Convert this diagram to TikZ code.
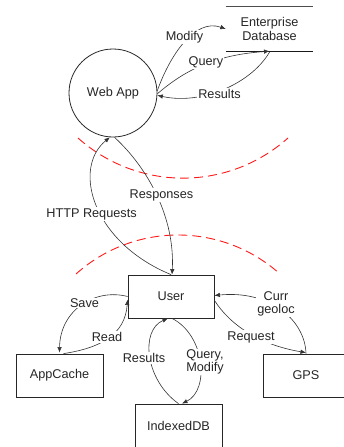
\documentclass[tikz,border=0pt]{standalone}
\usepackage{fontspec}
\setmainfont{Liberation Sans}
\usetikzlibrary{arrows.meta}
\begin{document}
\begin{tikzpicture}[x=1pt,y=-1pt,
  font=\fontsize{12.7}{15}\selectfont,
  text=black!85,
  proc/.style={draw=black!85,line width=0.8pt,minimum width=86pt,minimum height=43pt,inner sep=0pt},
  webproc/.style={draw=black!85,line width=0.8pt,circle,minimum size=88pt,inner sep=0pt},
  flow/.style={draw=black!80,line width=0.6pt,-{Latex[length=5.5pt,width=4.5pt]}},
  lbl/.style={fill=white,inner sep=1pt,align=center},
  boundary/.style={draw=red!90,line width=0.9pt,dash pattern=on 9pt off 5pt}]
\useasboundingbox (0,0) rectangle (344,447);

% processes and stores
\node[webproc] (web) at (113,93) {Web App};
\node[minimum width=87pt,minimum height=44pt,inner sep=0pt,align=center] (db) at (269.5,29) {Enterprise\\[-1pt]Database};
\draw[black!70,line width=0.8pt] (db.north west) -- (db.north east);
\draw[black!90,line width=0.8pt] (db.south west) -- (db.south east);
\node[proc] (user) at (171,296.5) {User};
\node[proc,minimum width=87pt] (ac) at (59.5,375.5) {AppCache};
\node[proc] (gps) at (306,375.5) {GPS};
\node[proc,minimum width=87pt,minimum height=44pt] (idb) at (178.5,426) {IndexedDB};

% trust boundaries
\draw[boundary] (78,138) .. controls (138,191.5) and (228,191.5) .. (288,138);
\draw[boundary] (76,274) .. controls (134,222) and (222,222) .. (280,274);

% web app <-> database
\draw[flow] (web.3) .. controls (170,55) and (195,18) .. (db.west);
\draw[flow] (web.-1) .. controls (185,70) and (215,55) .. (db.south);
\draw[flow] ([yshift=-1pt]db.south) .. controls (250,85) and (200,105) .. (web.-3);

% user <-> web app
\draw[flow] (user.north) .. controls (92,242) and (72,168) .. (web.-94);
\draw[flow] (web.-88) .. controls (150,170) and (175,220) .. ([xshift=1pt]user.north);

% user <-> local stores
\draw[flow] (user.west) .. controls (95,288) and (60,310) .. ([yshift=1pt]ac.north);
\draw[flow] ([xshift=4pt]ac.north) .. controls (100,348) and (125,335) .. (user.184);
\draw[flow] (idb.north) .. controls (145,380) and (140,330) .. ([xshift=-3pt]user.south);
\draw[flow] ([xshift=1pt]user.south) .. controls (205,335) and (210,390) .. ([xshift=3.5pt]idb.north);
\draw[flow] (gps.north) .. controls (305,320) and (270,290) .. ([yshift=1pt]user.east);
\draw[flow] (user.-5) .. controls (230,325) and (260,345) .. ([yshift=1pt]gps.north);

% flow labels
\node[lbl] (lmod) at (184.5,37) {Modify};
\node[lbl] (lqry) at (206,62) {Query};
\node[lbl] (lres) at (219.5,94) {Results};
\node[lbl] (lresp) at (161.5,195) {Responses};
\node[lbl] (lhttp) at (91.5,214) {HTTP Requests};
\node[lbl] (lsave) at (84.5,303) {Save};
\node[lbl] (lread) at (107,337) {Read};
\node[lbl] (lres2) at (144,358) {Results};
\node[lbl] (lqm) at (205,362) {Query,\\[-2pt]Modify};
\node[lbl] (lcurr) at (276,304) {Curr\\[-2pt]geoloc};
\node[lbl] (lreq) at (251,337) {Request};
\end{tikzpicture}
\end{document}
